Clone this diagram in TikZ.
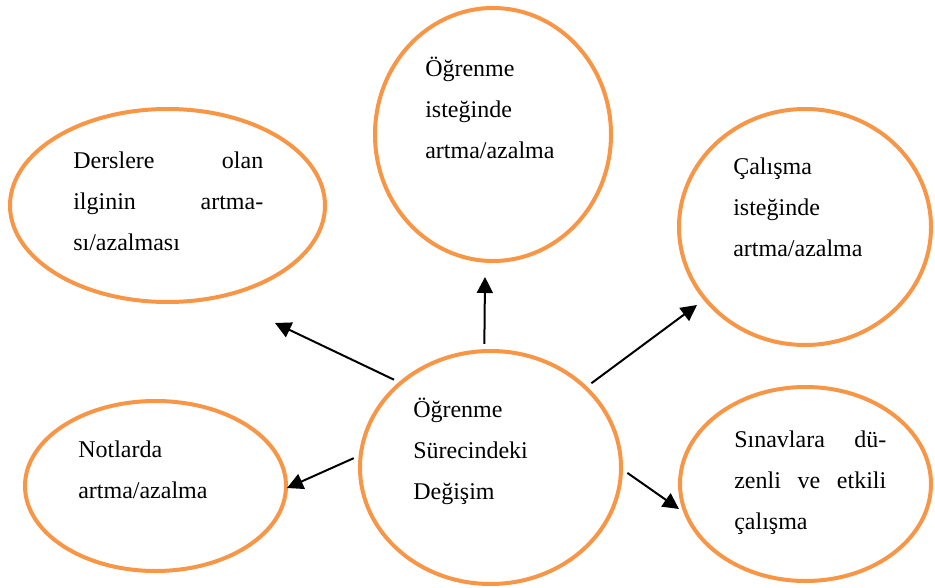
\documentclass[tikz,border=0pt]{standalone}
\usepackage{fontspec}
\setmainfont{Liberation Serif}
\usetikzlibrary{shapes.geometric, arrows.meta}
\definecolor{ringorange}{HTML}{F79646}

\begin{document}
\begin{tikzpicture}[x=0.75pt, y=-0.75pt,
  blob/.style 2 args={draw=ringorange, line width=3pt, ellipse, inner sep=0pt,
    minimum width=#1*0.75pt, minimum height=#2*0.75pt},
  txt/.style={anchor=base west, inner sep=0pt, align=left, text width=#1,
    font=\fontsize{18}{30.75}\selectfont},
  txt/.default=150pt,
  arr/.style={line width=1.5pt, shorten <=4pt, -{Triangle[length=12pt, width=12pt]}}]
  \useasboundingbox (0,0) rectangle (935,588);
  % halkalar (merkez, genislik, yukseklik piksel olarak)
  \node[blob={315}{193}] (ders) at (167.5,205.5) {};
  \node[blob={236}{253}] (istek) at (493,134.5) {};
  \node[blob={252}{236}] (calis) at (805,227) {};
  \node[blob={261}{170}] (not) at (155.5,486) {};
  \node[blob={261}{233}] (hub) at (490.5,467.5) {};
  \node[blob={251}{194}] (sinav) at (805.5,484) {};
  % metinler
  \node[txt=142.5pt] (dersT) at (73,169) {Derslere\hfill olan\\ilginin\hfill artma-\\sı/azalması};
  \node[txt] (istekT) at (425,77) {Öğrenme\\isteğinde\\artma/azalma};
  \node[txt] (calisT) at (733,175) {Çalışma\\isteğinde\\artma/azalma};
  \node[txt] (notT) at (78,457) {Notlarda\\artma/azalma};
  \node[txt] (hubT) at (413,417) {Öğrenme\\Sürecindeki\\Değişim};
  \node[txt=114pt] (sinavT) at (734,447) {Sınavlara\hfill dü-\\zenli\hfill ve\hfill etkili\\çalışma};
  % ok uclari
  \coordinate (dersTip) at (275,323);
  \coordinate (istekTip) at (485,277);
  \coordinate (calisTip) at (697,305);
  \coordinate (notTip) at (287,488);
  \coordinate (sinavTip) at (679,509);
  \draw[arr] (hub.137.7) -- (dersTip);
  \draw[arr] (hub.93.5) -- (istekTip);
  \draw[arr] (hub.40.6) -- (calisTip);
  \draw[arr] (hub.175.9) -- (notTip);
  \draw[arr] (hub.-1.1) -- (sinavTip);
\end{tikzpicture}
\end{document}
